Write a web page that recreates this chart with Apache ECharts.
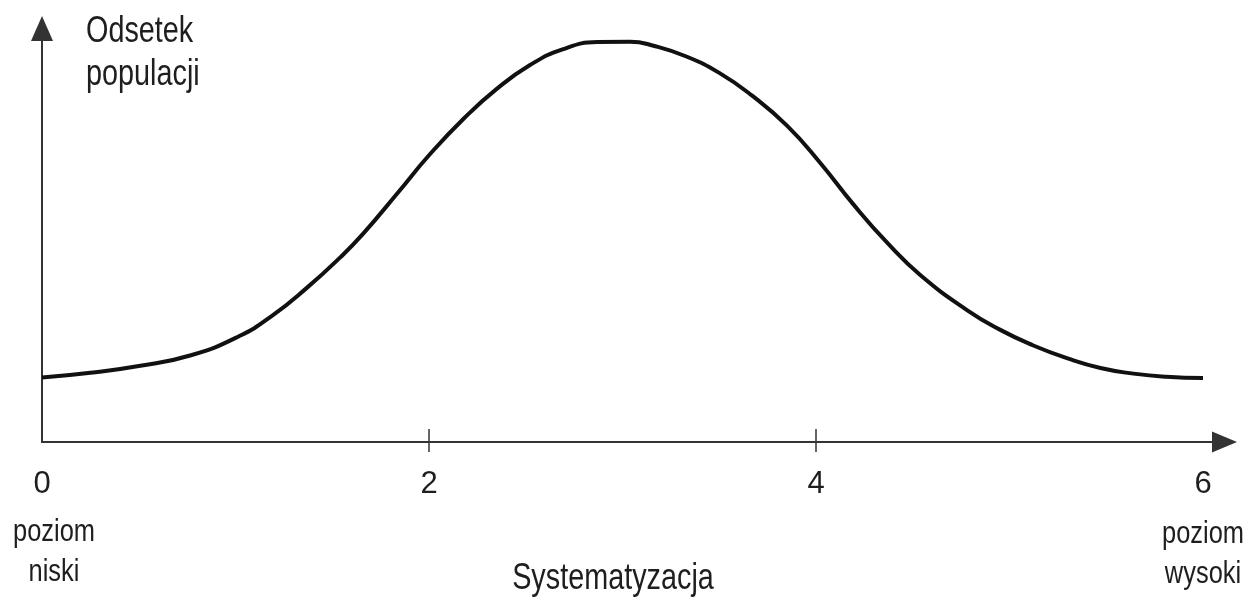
<!DOCTYPE html>
<html>
<head>
<meta charset="utf-8">
<title>Systematyzacja – rozkład w populacji</title>
<script src="https://cdn.jsdelivr.net/npm/echarts@6/dist/echarts.min.js"></script>
<style>
  html, body { margin: 0; padding: 0; background: #fff; }
  #chart { width: 1252px; height: 599px; }
</style>
</head>
<body>
<div id="chart"></div>
<script>
// Systematization level (0 = low, 6 = high)
const levels = [0, 0.25, 0.5, 0.77, 1.02, 1.19, 1.37, 1.54, 1.66, 1.84, 2.0, 2.18,
                2.35, 2.52, 2.69, 2.87, 3.04, 3.16, 3.33, 3.5, 3.67, 3.85, 4.02, 4.19,
                4.37, 4.54, 4.78, 4.95, 5.12, 5.3, 5.47, 5.64, 5.81, 6.0];
// Share of the population at each level (relative units, peak ≈ 100)
const share = [16.1, 17.3, 19.0, 21.7, 26.5, 31.6, 38.6, 46.1, 52.1, 62.4, 71.7, 80.9,
               88.3, 94.2, 98.2, 100.0, 100.1, 99.1, 96.4, 92.3, 86.6, 79.1, 69.9, 59.6,
               49.7, 41.7, 33.0, 28.1, 24.2, 20.9, 18.5, 17.1, 16.3, 16.0];
// Tick labels and tick positions on the level axis
const labelValues = [0, 2, 4, 6];
const tickValues = [2, 4];

const xMin = 0, xMax = 6.111;
const yMin = 0, yMax = 103.4;

const FONT = "'Liberation Sans', Arial, sans-serif";
const TEXT = '#1e1e1e';
const AXIS = '#333';

const chart = echarts.init(document.getElementById('chart'), null, { renderer: 'canvas' });

// Condensed caption text: regular sans squeezed horizontally
function caption(text, x, y, size, lineHeight, align, squeeze) {
  return {
    type: 'text', x: x, y: y, scaleX: squeeze, silent: true,
    style: { text: text, fontFamily: FONT, fontSize: size, lineHeight: lineHeight,
             fill: TEXT, textAlign: align, textVerticalAlign: 'middle' }
  };
}

chart.setOption({
  backgroundColor: '#fff',
  animation: false,
  grid: { left: 42, right: 27.5, top: 28.5, bottom: 157, outerBoundsMode: 'none' },
  xAxis: [
    {
      type: 'value', min: xMin, max: xMax,
      axisLine: { show: true, lineStyle: { color: AXIS, width: 2 },
                  symbol: ['none', 'triangle'], symbolSize: [21, 25] },
      axisTick: { show: true, inside: true, length: 13, customValues: tickValues,
                  lineStyle: { color: AXIS, width: 1.5 } },
      axisLabel: { show: true, customValues: labelValues, margin: 27,
                   fontFamily: FONT, fontSize: 31, color: TEXT, lineHeight: 31 },
      splitLine: { show: false }
    },
    {
      type: 'value', min: xMin, max: xMax, position: 'bottom',
      axisLine: { show: false },
      axisTick: { show: true, inside: false, length: 10, customValues: tickValues,
                  lineStyle: { color: AXIS, width: 1.5 } },
      axisLabel: { show: false },
      splitLine: { show: false }
    }
  ],
  yAxis: {
    type: 'value', min: yMin, max: yMax,
    axisLine: { show: true, lineStyle: { color: AXIS, width: 2 },
                symbol: ['none', 'triangle'], symbolSize: [22, 25] },
    axisTick: { show: false },
    axisLabel: { show: false },
    splitLine: { show: false }
  },
  graphic: [
    caption('Odsetek\npopulacji', 86, 54, 36, 43, 'left', 0.8),
    caption('Systematyzacja', 613, 579.5, 36, 36, 'center', 0.8),
    caption('poziom\nniski', 54, 552, 31, 40, 'center', 0.82),
    caption('poziom\nwysoki', 1203, 554, 31, 40, 'center', 0.82)
  ],
  series: [{
    type: 'line',
    xAxisIndex: 0,
    data: levels.map((x, i) => [x, share[i]]),
    smooth: 0.5,
    showSymbol: false,
    lineStyle: { color: '#111', width: 4 },
    silent: true
  }]
});
</script>
</body>
</html>
